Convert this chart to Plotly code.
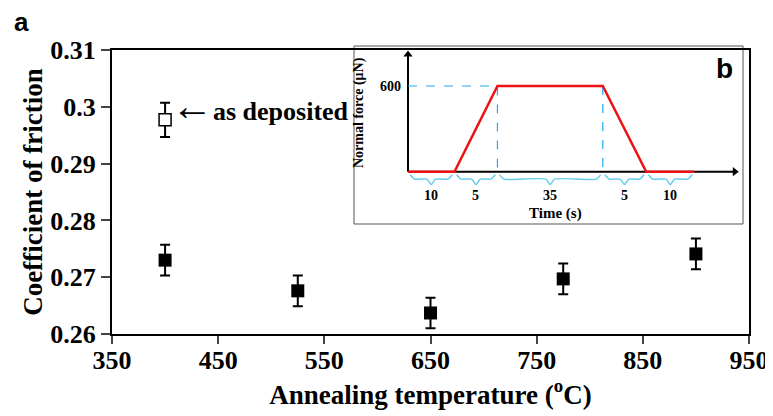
import plotly.graph_objects as go

# ---- main data ----
temps = [400, 525, 650, 775, 900]
cof = [0.2730, 0.2676, 0.2637, 0.2697, 0.2741]
cof_err = [0.0027, 0.0027, 0.0027, 0.0027, 0.0027]
dep_temp = [400]
dep_cof = [0.2977]
dep_err = [0.0030]
x_ticks = [350, 450, 550, 650, 750, 850, 950]
y_ticks = [0.26, 0.27, 0.28, 0.29, 0.30, 0.31]
y_ticklabels = ["0.26", "0.27", "0.28", "0.29", "0.3", "0.31"]

# ---- inset (schematic loading profile) ----
inset_x = [0, 10.8, 20.8, 45.3, 55.4, 66.6]   # schematic positions
inset_force = [0, 0, 600, 600, 0, 0]
seg_labels = ["10", "5", "35", "5", "10"]
axis_end_x = 76
axis_end_y = 820

OFF = 8  # page body margin
W, H = 773 - OFF, 416 - OFF
L, T = 112 - OFF, 50 - OFF
R, B = W - (749 - OFF), H - (334 - OFF)
PW, PH = W - L - R, H - T - B


def px(x):  # screen pixel -> paper
    return (x - OFF - L) / PW


def py(y):
    return (H - B - (y - OFF)) / PH


serif = "Liberation Serif, Times New Roman, serif"
sans = "Liberation Sans, Arial, sans-serif"


def sf(size, fam=serif, weight="bold"):
    return dict(family=fam, size=size, color="black", weight=weight)


fig = go.Figure()

fig.add_trace(go.Scatter(
    x=temps, y=cof, mode="markers",
    marker=dict(symbol="square", size=13, color="black"),
    error_y=dict(type="data", array=cof_err, color="black", thickness=2, width=5),
    showlegend=False, xaxis="x", yaxis="y"))
fig.add_trace(go.Scatter(
    x=dep_temp, y=dep_cof, mode="markers",
    marker=dict(symbol="square", size=12, color="white", line=dict(color="black", width=1.5)),
    error_y=dict(type="data", array=dep_err, color="black", thickness=2, width=5),
    showlegend=False, xaxis="x", yaxis="y"))

# inset box (screen pixels)
ix0, ix1, iy0, iy1 = 354, 743, 46, 224
dy0 = 50  # top of inset axes domain (clamped to plot top)
x_org, x_scale = 408, 4.3          # px of x=0, px per unit
y_org, y_scale = 171.7, 85.7 / 600  # px of force 0, px per unit
x2_range = [-(x_org - ix0) / x_scale, (ix1 - x_org) / x_scale]
y2_range = [-(iy1 - y_org) / y_scale, (y_org - dy0) / y_scale]

# inset axes with arrow heads
fig.add_trace(go.Scatter(
    x=[0, axis_end_x, None, 0, 0], y=[0, 0, None, 0, axis_end_y],
    mode="lines", line=dict(color="black", width=2),
    showlegend=False, xaxis="x2", yaxis="y2", hoverinfo="skip"))
fig.add_trace(go.Scatter(
    x=[axis_end_x, 0], y=[0, axis_end_y], mode="markers",
    marker=dict(symbol=["triangle-right", "triangle-up"], size=8, color="black"),
    showlegend=False, xaxis="x2", yaxis="y2", hoverinfo="skip"))

# dashed guides
fig.add_trace(go.Scatter(
    x=[inset_x[0], inset_x[2], inset_x[2], None, inset_x[3], inset_x[3]],
    y=[inset_force[2], inset_force[2], 0, None, inset_force[3], 0],
    mode="lines", line=dict(color="#22aaee", width=1.2, dash="dash"),
    showlegend=False, xaxis="x2", yaxis="y2", hoverinfo="skip"))

# braces under the time axis
bx, by = [], []
for i in range(len(seg_labels)):
    a = inset_x[i] + 0.5
    b = inset_x[i + 1] - 0.5
    m = (a + b) / 2
    top, mid, low = -22, -52, -90
    bx += [a, a + 1.0, m - 1.0, m, m + 1.0, b - 1.0, b, None]
    by += [top, mid, mid, low, mid, mid, top, None]
fig.add_trace(go.Scatter(
    x=bx, y=by, mode="lines", line=dict(color="#66ccee", width=1.5, shape="spline", smoothing=0.6),
    showlegend=False, xaxis="x2", yaxis="y2", hoverinfo="skip"))

# loading profile
fig.add_trace(go.Scatter(
    x=inset_x, y=inset_force, mode="lines", line=dict(color="#ee1111", width=2.5),
    showlegend=False, xaxis="x2", yaxis="y2", hoverinfo="skip"))

annotations = [
    dict(text="a", x=px(21), y=py(22), xref="paper", yref="paper", showarrow=False,
         font=sf(26, sans), xanchor="center", yanchor="middle"),
    dict(text='<span style="font-size:42px;font-weight:normal">←</span>as deposited',
         x=400, y=0.3001, xref="x", yref="y", showarrow=False,
         xanchor="left", yanchor="middle", xshift=4, font=sf(26)),
    dict(text="b", x=px(724), y=py(68), xref="paper", yref="paper", showarrow=False,
         font=sf(28, sans), xanchor="center", yanchor="middle"),
    dict(text="600", x=0, y=600, xref="x2", yref="y2", showarrow=False, xanchor="right",
         yanchor="middle", xshift=-5, font=sf(14)),
    dict(text="Time (s)", x=px(555), y=py(213), xref="paper", yref="paper", showarrow=False,
         xanchor="center", yanchor="middle", font=sf(15)),
    dict(text="Normal force (μN)", x=px(359), y=py(113), xref="paper", yref="paper", showarrow=False,
         textangle=-90, xanchor="center", yanchor="middle", font=sf(14)),
]
for i, lab in enumerate(seg_labels):
    annotations.append(dict(text=lab, x=(inset_x[i] + inset_x[i + 1]) / 2, y=py(195),
                            xref="x2", yref="paper", showarrow=False, xanchor="center",
                            yanchor="middle", font=sf(14)))

shapes = [
    dict(type="rect", xref="paper", yref="paper", x0=px(ix0), x1=px(ix1), y0=py(iy1), y1=py(iy0),
         line=dict(color="#555555", width=1), fillcolor="white", layer="below"),
]

fig.update_layout(
    width=W, height=H,
    margin=dict(l=L, r=R, t=T, b=B),
    paper_bgcolor="white", plot_bgcolor="rgba(0,0,0,0)",
    font=dict(family=serif, color="black"),
    xaxis=dict(range=[350, 950], tickvals=x_ticks, ticks="outside", ticklen=8, tickwidth=1.5,
               tickcolor="#444", showline=True, linecolor="black", linewidth=2, mirror=True,
               showgrid=False, zeroline=False, automargin=False, ticklabelstandoff=-6,
               tickfont=sf(26),
               title=dict(text="Annealing temperature (<sup>o</sup>C)", standoff=4, font=sf(27))),
    yaxis=dict(range=[0.26, 0.31], tickvals=y_ticks, ticktext=y_ticklabels, ticks="outside",
               ticklen=9, tickwidth=1.5, tickcolor="#444", showline=True, linecolor="black",
               linewidth=2, mirror=True, showgrid=False, zeroline=False, automargin=False,
               tickfont=sf(26),
               title=dict(text="Coefficient of friction", standoff=0, font=sf(27))),
    xaxis2=dict(domain=[px(ix0), px(ix1)], range=x2_range, anchor="y2", visible=False,
                fixedrange=True),
    yaxis2=dict(domain=[py(iy1), py(dy0)], range=y2_range, anchor="x2", visible=False,
                fixedrange=True),
    annotations=annotations,
    shapes=shapes,
)

fig.write_html("out.html")
